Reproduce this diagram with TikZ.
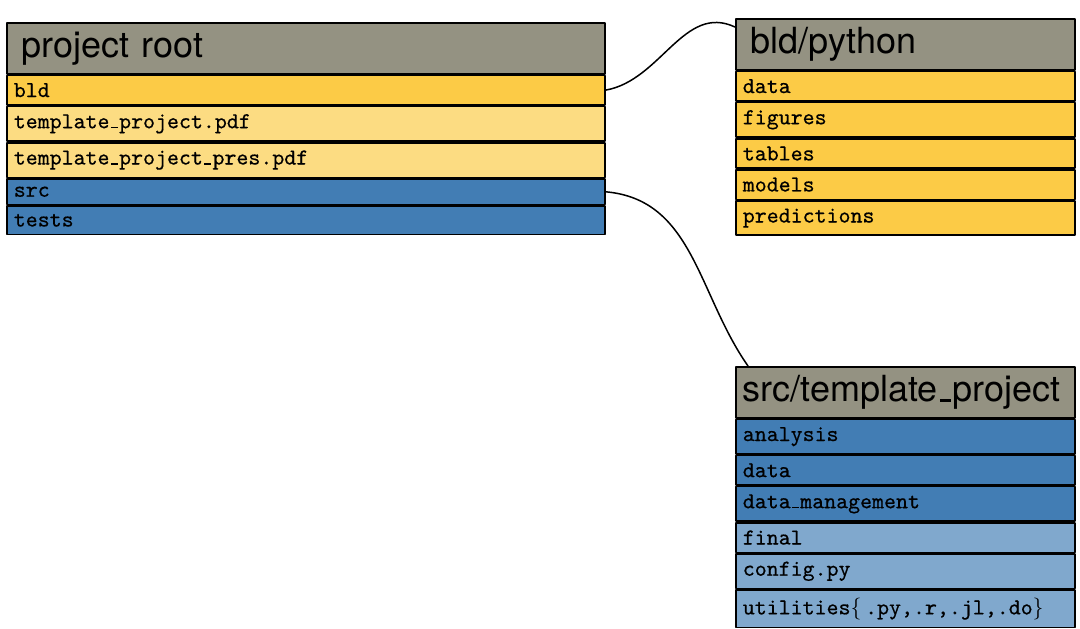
\documentclass[tikz,border=0pt]{standalone}
\usepackage{fontspec}
\newfontfamily\headfont{TeX Gyre Heros}
\newfontfamily\rowfont{lmmono10-regular.otf}[FakeBold=0.5]
\usetikzlibrary{positioning}

\definecolor{headgray}{RGB}{148,146,130}
\definecolor{bldyellow}{RGB}{252,203,70}
\definecolor{fileyellow}{RGB}{252,220,130}
\definecolor{srcblue}{RGB}{66,125,180}
\definecolor{lightblue}{RGB}{128,168,205}

% low underscore as a rule
\newcommand{\us}{\leavevmode\kern.06em\vbox{\hrule width.3em height.06em}\kern.06em}

\tikzset{
	head/.style={draw, fill=headgray, line width=0.8pt, align=left, inner xsep=3.5pt, inner ysep=3.5pt,
		font=\headfont\fontsize{18}{20}\selectfont, minimum height=25.5pt},
	row/.style={draw, fill=#1, line width=0.8pt, align=left, inner xsep=3.5pt, inner ysep=3.85pt,
		font=\rowfont\fontsize{11.4}{13}\selectfont},
	wide/.style={text width=292pt},
	narrow/.style={text width=162.5pt},
	link/.style={line width=0.75pt}
}

\begin{document}
\begin{tikzpicture}[line cap=round,line join=round]
	\useasboundingbox (0,0) rectangle (540pt,-314pt);
	% project root
	\begin{scope}[every node/.append style={wide}]
		\node[head, anchor=north west] (roothead) at (3pt,-11pt) {\hspace*{4pt}project root};
		\node[row=bldyellow, below=0pt of roothead] (bld) {bld};
		\node[row=fileyellow, below=0pt of bld] (tpdf) {template\us project.pdf};
		\node[row=fileyellow, below=0pt of tpdf] (tpres) {template\us project\us pres.pdf};
		\node[row=srcblue, below=0pt of tpres] (src) {src};
		\node[row=srcblue, below=0pt of src] (tests) {tests};
	\end{scope}
	% bld/python
	\begin{scope}[every node/.append style={narrow}]
		\node[head, anchor=north west] (pyhead) at (367.5pt,-9pt) {\hspace*{4pt}bld/python};
		\node[row=bldyellow, below=0pt of pyhead] (pydata) {data};
		\node[row=bldyellow, below=0pt of pydata] (pyfig) {figures};
		\node[row=bldyellow, below=0pt of pyfig] (pytab) {tables};
		\node[row=bldyellow, below=0pt of pytab] (pymod) {models};
		\node[row=bldyellow, below=0pt of pymod] (pypred) {predictions};
	\end{scope}
	% src/template_project
	\begin{scope}[every node/.append style={narrow}]
		\node[head, anchor=north west] (srchead) at (367.5pt,-183pt) {src/template\us project};
		\node[row=srcblue, below=0pt of srchead] (analysis) {analysis};
		\node[row=srcblue, below=0pt of analysis] (srcdata) {data};
		\node[row=srcblue, below=0pt of srcdata] (datamgmt) {data\us management};
		\node[row=lightblue, below=0pt of datamgmt] (final) {final};
		\node[row=lightblue, below=0pt of final] (config) {config.py};
		\node[row=lightblue, below=0pt of config] (utils) {utilities$\{\,$.py,.r,.jl,.do$\}$};
	\end{scope}
	\draw[link] (bld.east) to[out=10,in=155] ([yshift=-4.5pt]pyhead.north west);
	\draw[link] (src.east) to[out=-5,in=125] ([xshift=6.5pt]srchead.north west);
\end{tikzpicture}
\end{document}
